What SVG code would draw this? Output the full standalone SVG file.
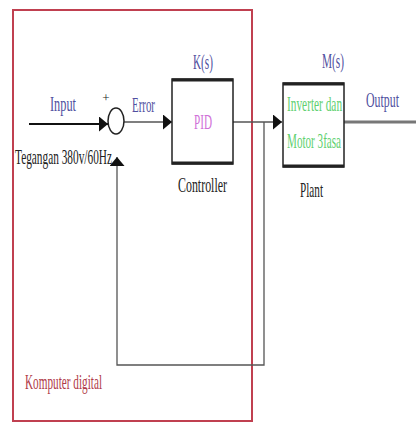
<svg xmlns="http://www.w3.org/2000/svg" width="416" height="423" viewBox="0 0 416 423">
<style>
text{font-family:"Liberation Serif","DejaVu Serif",serif;font-size:22px}
.lbl{fill:#5050a0}
.blk{fill:#222}
.grn{fill:#60d070;font-size:21px}
.box{fill:#fff;stroke:#222;stroke-width:1.5}
.edge{stroke:#222;stroke-width:3}
.ln{fill:none;stroke:#555;stroke-width:1.3}
</style>
<defs>
<marker id="ah" markerWidth="9" markerHeight="15" refX="9" refY="7.5" orient="auto" markerUnits="userSpaceOnUse">
<path d="M0,0 L9,7.5 L0,15 Z" fill="#111"/>
</marker>
</defs>
<g id="computer">
<rect x="13" y="10" width="239" height="411" fill="none" stroke="#c04050" stroke-width="2"/>
<text x="25" y="389" textLength="77" lengthAdjust="spacingAndGlyphs" fill="#b03a48">Komputer digital</text>
</g>
<g id="connectors">
<line x1="29" y1="124" x2="108" y2="124" stroke="#111" stroke-width="2" marker-end="url(#ah)"/>
<line x1="124" y1="122" x2="172" y2="122" class="ln" stroke="#888" marker-end="url(#ah)"/>
<line x1="233" y1="122" x2="282" y2="122" class="ln" marker-end="url(#ah)"/>
<polyline points="264,122 264,365 117,365 117,157" class="ln" stroke="#333" stroke-width="1.6" marker-end="url(#ah)"/>
<line x1="344" y1="122" x2="416" y2="122" stroke="#777" stroke-width="3"/>
</g>
<g id="sum">
<ellipse cx="116" cy="121" rx="8" ry="13" fill="#fff" stroke="#222" stroke-width="1.5"/>
<text x="106" y="102" class="blk" style="font-size:13px" text-anchor="middle">+</text>
</g>
<g id="labels">
<text x="50" y="111" textLength="26" lengthAdjust="spacingAndGlyphs" class="lbl">Input</text>
<text x="132" y="112" textLength="23" lengthAdjust="spacingAndGlyphs" class="lbl">Error</text>
<text transform="translate(366,107) scale(0.54,1)" x="0" y="0" class="lbl">Output</text>
<text x="15" y="164" textLength="97" lengthAdjust="spacingAndGlyphs" class="blk">Tegangan 380v/60Hz</text>
</g>
<g id="controller">
<rect x="172" y="79" width="61" height="85" class="box"/>
<line x1="172" y1="80" x2="233" y2="80" class="edge"/>
<line x1="172" y1="163" x2="233" y2="163" class="edge"/>
<text x="194" y="129" textLength="18" lengthAdjust="spacingAndGlyphs" fill="#d070d8">PID</text>
<text x="193" y="69" textLength="20" lengthAdjust="spacingAndGlyphs" class="lbl">K(s)</text>
<text x="178" y="192" textLength="49" lengthAdjust="spacingAndGlyphs" class="blk">Controller</text>
</g>
<g id="plant">
<rect x="283" y="83" width="61" height="84" class="box"/>
<line x1="283" y1="84" x2="344" y2="84" class="edge"/>
<line x1="283" y1="166" x2="344" y2="166" class="edge"/>
<text transform="translate(287,111) scale(0.54,1)" x="0" y="0" class="grn">Inverter dan</text>
<text transform="translate(287,148) scale(0.53,1)" x="0" y="0" class="grn">Motor 3fasa</text>
<text x="322" y="68" textLength="22" lengthAdjust="spacingAndGlyphs" class="lbl">M(s)</text>
<text x="300" y="197" textLength="23" lengthAdjust="spacingAndGlyphs" class="blk">Plant</text>
</g>
</svg>
